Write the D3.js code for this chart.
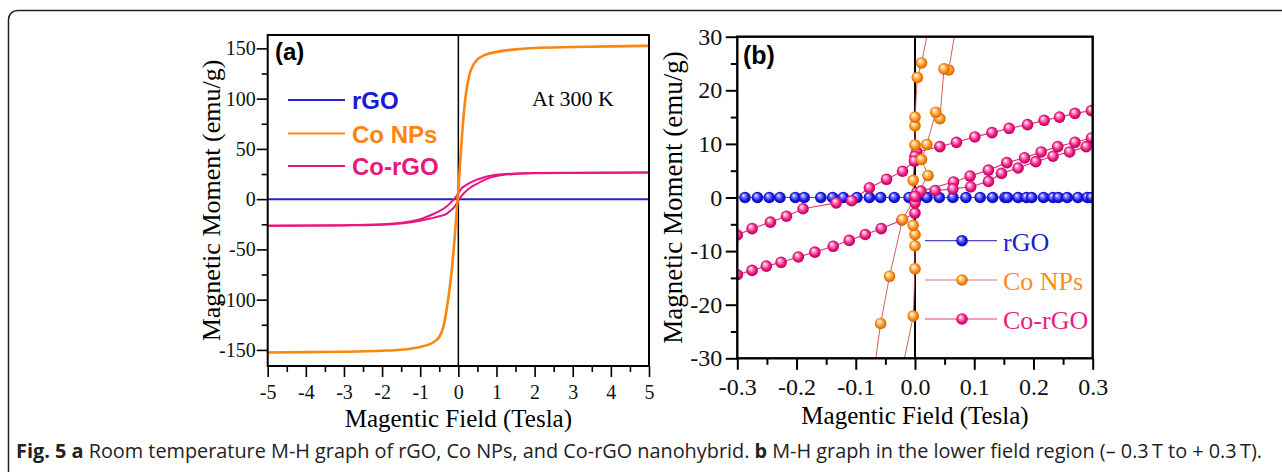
<!DOCTYPE html>
<html>
<head>
<meta charset="utf-8">
<script src="https://cdn.jsdelivr.net/npm/d3@7"></script>
<style>
body { margin: 0; background: #fff; }
svg { display: block; }
</style>
</head>
<body>
<svg id="fig" width="1282" height="472"></svg>
<script>
// ---- panel (a): full field sweep ----
var fieldA  = [-5, -4, -3, -2, -1.5, -1, -0.8, -0.6, -0.5, -0.4, -0.3, -0.2, -0.15, -0.1, -0.05, 0, 0.05, 0.1, 0.15, 0.2, 0.3, 0.4, 0.5, 0.7, 1, 1.5, 2, 3, 4, 5];
var coNPsA  = [-152.5, -152.2, -151.8, -150.8, -149.8, -147, -145, -141, -137, -128, -108, -80, -62, -40, -15, 8, 38, 65, 88, 105, 125, 134, 139, 143.5, 146.5, 149, 150.3, 151.3, 152, 152.5];
var rgoA    = [0, 0, 0, 0, 0, 0, 0, 0, 0, 0, 0, 0, 0, 0, 0, 0, 0, 0, 0, 0, 0, 0, 0, 0, 0, 0, 0, 0, 0, 0];

var fieldLoopA   = [-5, -3, -2, -1.5, -1, -0.7, -0.5, -0.3, -0.2, -0.1, 0, 0.1, 0.2, 0.3, 0.5, 0.7, 1, 1.5, 2, 3, 5];
var coRgoUpperA  = [-26.5, -26, -25, -23.5, -20, -15.5, -12, -7, -3.5, 0.5, 6, 11.3, 13.9, 16.2, 19.5, 22, 24.2, 25.5, 26, 26.2, 26.4];
var coRgoLowerA  = [-26.5, -26.1, -25.4, -24.2, -21.5, -19, -17, -14.4, -11.2, -7.8, -1.5, 4, 7.9, 11.1, 15.5, 19.5, 23, 25.1, 25.8, 26.1, 26.4];

var xTicksA = [-5, -4, -3, -2, -1, 0, 1, 2, 3, 4, 5];
var yTicksA = [-150, -100, -50, 0, 50, 100, 150];

// ---- panel (b): low field region ----
var rgoFieldB  = [-0.31, -0.287, -0.266, -0.246, -0.228, -0.202, -0.187, -0.159, -0.139, -0.121, -0.098, -0.077, -0.058, -0.035, -0.01, 0.003, 0.02, 0.041, 0.064, 0.086, 0.11, 0.131, 0.152, 0.156, 0.174, 0.188, 0.197, 0.217, 0.233, 0.242, 0.257, 0.275, 0.291, 0.298];
var rgoMomentB = [0, 0, 0, 0, 0, 0, 0, 0, 0, 0, 0, 0, 0, 0, 0, 0, 0, 0, 0, 0, 0, 0, 0, 0, 0, 0, 0, 0, 0, 0, 0, 0, 0, 0];

var coNPsFieldDownB  = [0.089, 0.057, 0.049, 0.042, 0.035, 0.02, 0.011, 0.022, -0.021, -0.043, -0.058, -0.085];
var coNPsMomentDownB = [45, 23.8, 24.0, 14.7, 15.9, 9.9, 7.1, 4.1, -4.1, -14.7, -23.5, -45];
var coNPsFieldUpB    = [-0.046, -0.003, 0, 0, 0, -0.003, -0.003, 0, 0, 0, 0.004, 0.011, 0.047];
var coNPsMomentUpB   = [-45, -22.1, -13.3, -9.0, -6.9, -5.2, 3.2, 9.8, 13.4, 15.0, 22.4, 25.1, 45];

var coRgoFieldUpperB  = [0.32, 0.298, 0.27, 0.244, 0.218, 0.19, 0.159, 0.13, 0.101, 0.07, 0.042, 0.003, 0, -0.001, -0.021, -0.048, -0.077, -0.107, -0.133, -0.189, -0.217, -0.244, -0.275, -0.3, -0.32];
var coRgoMomentUpperB = [16.6, 16.2, 15.7, 15.0, 14.4, 13.6, 12.9, 12.1, 11.3, 10.3, 9.5, 8.5, 7.7, 6.8, 4.9, 3.4, 1.8, -0.6, -1.0, -2.1, -3.5, -4.6, -5.8, -7.0, -8.0];
var coRgoFieldLowerB  = [-0.32, -0.3, -0.275, -0.251, -0.226, -0.197, -0.169, -0.138, -0.111, -0.084, -0.057, -0.022, 0, 0, 0.003, 0.01, 0.065, 0.093, 0.124, 0.155, 0.185, 0.213, 0.241, 0.27, 0.298, 0.32];
var coRgoMomentLowerB = [-15.0, -14.4, -13.6, -12.8, -12.1, -11.1, -10.2, -9.1, -8.0, -6.9, -5.8, -4.2, -2.9, -1.0, 0.9, 1.2, 2.9, 4.0, 5.1, 6.5, 7.4, 8.5, 9.5, 10.3, 11.1, 11.7];
var coRgoFieldVirginB  = [0, 0.034, 0.064, 0.094, 0.124, 0.146, 0.174, 0.204, 0.233, 0.261, 0.289, 0.32];
var coRgoMomentVirginB = [0.2, 1.3, 1.6, 2.0, 3.0, 4.5, 5.5, 6.7, 7.7, 8.5, 9.5, 10.4];

var xTicksB = [-0.3, -0.2, -0.1, 0, 0.1, 0.2, 0.3];
var yTicksB = [-30, -20, -10, 0, 10, 20, 30];

var blue = '#1a1ad6', orange = '#ff8410', pink = '#e8167f';
var serif = '"Liberation Serif", "Times New Roman", serif';
var sans = '"Liberation Sans", Arial, sans-serif';

var svg = d3.select('#fig');

function zip(xs, ys) {
    return xs.map(function (x, i) { return [x, ys[i]]; });
}
function fmt(d) {
    return String(d).replace('\u2212', '-');
}

// outer frame, right and bottom go past the picture
svg.append('rect').attr('x', 8.5).attr('y', 10.5).attr('width', 1400).attr('height', 600)
    .attr('rx', 9).attr('fill', 'none').attr('stroke', '#222').attr('stroke-width', 1.5);

// marker gradients
var defs = svg.append('defs');
[['gBlue', '#8a8aff', '#1515e8', '#0a0a90'], ['gOrange', '#ffd9a0', '#ff8a10', '#c05a00'], ['gPink', '#ffa0cc', '#f0157f', '#a00050']].forEach(function (g) {
    var rg = defs.append('radialGradient').attr('id', g[0])
        .attr('cx', '50%').attr('cy', '50%').attr('r', '55%').attr('fx', '35%').attr('fy', '30%');
    rg.append('stop').attr('offset', '0%').attr('stop-color', '#fff');
    rg.append('stop').attr('offset', '25%').attr('stop-color', g[1]);
    rg.append('stop').attr('offset', '65%').attr('stop-color', g[2]);
    rg.append('stop').attr('offset', '100%').attr('stop-color', g[3]);
});

// ================= panel (a) =================
var ax = d3.scaleLinear().domain([-5, 5]).range([267.7, 649]);
var ay = d3.scaleLinear().domain([-166, 163.3]).range([366, 35]);

defs.append('clipPath').attr('id', 'clipA').append('rect')
    .attr('x', 267.7).attr('y', 35).attr('width', 649 - 267.7).attr('height', 366 - 35);

var gA = svg.append('g');
var plotA = gA.append('g').attr('clip-path', 'url(#clipA)');

plotA.append('line').attr('x1', ax(0)).attr('x2', ax(0)).attr('y1', 35).attr('y2', 366)
    .attr('stroke', '#000').attr('stroke-width', 1.5);

var lineA = d3.line().x(function (d) { return ax(d[0]); }).y(function (d) { return ay(d[1]); })
    .curve(d3.curveMonotoneX);

plotA.append('path').attr('d', lineA(zip(fieldA, rgoA))).attr('fill', 'none')
    .attr('stroke', '#2323c8').attr('stroke-width', 2);
plotA.append('path').attr('d', lineA(zip(fieldLoopA, coRgoUpperA))).attr('fill', 'none')
    .attr('stroke', pink).attr('stroke-width', 2);
plotA.append('path').attr('d', lineA(zip(fieldLoopA, coRgoLowerA))).attr('fill', 'none')
    .attr('stroke', pink).attr('stroke-width', 2);
plotA.append('path').attr('d', lineA(zip(fieldA, coNPsA))).attr('fill', 'none')
    .attr('stroke', orange).attr('stroke-width', 2.6);

// axes (a)
var minorXA = d3.range(-5, 5.01, 0.5).filter(function (v) { return Math.abs(v % 1) > 0.01; });
var minorYA = [-125, -75, -25, 25, 75, 125];

gA.append('g').attr('transform', 'translate(0,366)')
    .call(d3.axisBottom(ax).tickValues(minorXA).tickSize(6).tickFormat(''));
gA.append('g').attr('transform', 'translate(267.7,0)')
    .call(d3.axisLeft(ay).tickValues(minorYA).tickSize(6).tickFormat(''));
gA.append('g').attr('transform', 'translate(0,366)')
    .call(d3.axisBottom(ax).tickValues(xTicksA).tickSize(11).tickPadding(8).tickFormat(fmt));
gA.append('g').attr('transform', 'translate(267.7,0)')
    .call(d3.axisLeft(ay).tickValues(yTicksA).tickSize(11).tickPadding(1).tickFormat(fmt));

gA.selectAll('.domain').remove();
gA.selectAll('.tick line').attr('stroke', '#000').attr('stroke-width', 1.6);
gA.selectAll('.tick text').attr('font-family', serif).attr('font-size', 20).attr('fill', '#111');

gA.append('rect').attr('x', 267.7).attr('y', 35).attr('width', 649 - 267.7).attr('height', 366 - 35)
    .attr('fill', 'none').attr('stroke', '#000').attr('stroke-width', 2);

gA.append('text').attr('x', 275).attr('y', 60).attr('font-family', sans).attr('font-weight', 'bold')
    .attr('font-size', 24).text('(a)');
gA.append('text').attr('x', 532).attr('y', 106).attr('font-family', serif)
    .attr('font-size', 22).text('At 300 K');

var legendA = [
    { name: 'rGO', color: blue, lc: '#2323c8', y: 100 },
    { name: 'Co NPs', color: orange, lc: orange, y: 133.5 },
    { name: 'Co-rGO', color: pink, lc: pink, y: 166 }
];
legendA.forEach(function (d) {
    gA.append('line').attr('x1', 288).attr('x2', 345).attr('y1', d.y).attr('y2', d.y)
        .attr('stroke', d.lc).attr('stroke-width', 2);
    gA.append('text').attr('x', 352).attr('y', d.y + 9).attr('font-family', sans)
        .attr('font-weight', 'bold').attr('font-size', 24).attr('fill', d.color).text(d.name);
});

gA.append('text').attr('transform', 'translate(220,' + (35 + 366) / 2 + ') rotate(-90)')
    .attr('text-anchor', 'middle').attr('font-family', serif).attr('font-size', 26)
    .text('Magnetic Moment (emu/g)');
gA.append('text').attr('x', (267.7 + 649) / 2).attr('y', 427).attr('text-anchor', 'middle')
    .attr('font-family', serif).attr('font-size', 25).text('Magentic Field (Tesla)');

// ================= panel (b) =================
var bx = d3.scaleLinear().domain([-0.3, 0.3]).range([737.3, 1092.7]);
var by = d3.scaleLinear().domain([-30, 30]).range([358.3, 36.7]);

defs.append('clipPath').attr('id', 'clipB').append('rect')
    .attr('x', 737.3).attr('y', 36.7).attr('width', 1092.7 - 737.3).attr('height', 358.3 - 36.7);

var gB = svg.append('g');
var plotB = gB.append('g').attr('clip-path', 'url(#clipB)');

plotB.append('line').attr('x1', bx(0)).attr('x2', bx(0)).attr('y1', 36.7).attr('y2', 358.3)
    .attr('stroke', '#000').attr('stroke-width', 2);

var lineB = d3.line().x(function (d) { return bx(d[0]); }).y(function (d) { return by(d[1]); });

var seriesB = [
    { pts: zip(rgoFieldB, rgoMomentB), line: '#4a4ac0', grad: 'url(#gBlue)', lw: 1.2 },
    { pts: zip(coRgoFieldUpperB, coRgoMomentUpperB), line: '#d8407f', grad: 'url(#gPink)', lw: 1.2 },
    { pts: zip(coRgoFieldLowerB, coRgoMomentLowerB), line: '#d8407f', grad: 'url(#gPink)', lw: 1.2 },
    { pts: zip(coRgoFieldVirginB, coRgoMomentVirginB), line: '#d8407f', grad: 'url(#gPink)', lw: 1.2 },
    { pts: zip(coNPsFieldDownB, coNPsMomentDownB), line: '#c85050', grad: 'url(#gOrange)', lw: 0.9 },
    { pts: zip(coNPsFieldUpB, coNPsMomentUpB), line: '#c85050', grad: 'url(#gOrange)', lw: 0.9 }
];
seriesB.forEach(function (s) {
    plotB.append('path').attr('d', lineB(s.pts)).attr('fill', 'none')
        .attr('stroke', s.line).attr('stroke-width', s.lw);
});
seriesB.forEach(function (s) {
    plotB.selectAll(null).data(s.pts).enter().append('circle')
        .attr('cx', function (d) { return bx(d[0]); })
        .attr('cy', function (d) { return by(d[1]); })
        .attr('r', 5.8).attr('fill', s.grad);
});

var minorXB = [-0.25, -0.15, -0.05, 0.05, 0.15, 0.25];
var minorYB = [-25, -15, -5, 5, 15, 25];

gB.append('g').attr('transform', 'translate(0,358.3)')
    .call(d3.axisBottom(bx).tickValues(minorXB).tickSize(6.5).tickFormat(''));
gB.append('g').attr('transform', 'translate(737.3,0)')
    .call(d3.axisLeft(by).tickValues(minorYB).tickSize(6.5).tickFormat(''));
gB.append('g').attr('transform', 'translate(0,358.3)')
    .call(d3.axisBottom(bx).tickValues(xTicksB).tickSize(11.5).tickPadding(8)
        .tickFormat(function (d) { return fmt(d3.format('.1f')(d)); }));
gB.append('g').attr('transform', 'translate(737.3,0)')
    .call(d3.axisLeft(by).tickValues(yTicksB).tickSize(11.5).tickPadding(3.5).tickFormat(fmt));

gB.selectAll('.domain').remove();
gB.selectAll('.tick line').attr('stroke', '#000').attr('stroke-width', 2);
gB.selectAll('.tick text').attr('font-family', serif).attr('font-size', 24).attr('fill', '#111');

gB.append('rect').attr('x', 737.3).attr('y', 36.7).attr('width', 1092.7 - 737.3).attr('height', 358.3 - 36.7)
    .attr('fill', 'none').attr('stroke', '#000').attr('stroke-width', 2.4);

gB.append('text').attr('x', 743).attr('y', 64).attr('font-family', sans).attr('font-weight', 'bold')
    .attr('font-size', 25).text('(b)');

var legendB = [
    { name: 'rGO', color: '#1d1dd0', line: '#4a4ac0', grad: 'url(#gBlue)', y: 240.7 },
    { name: 'Co NPs', color: '#ff8c1a', line: '#d87070', grad: 'url(#gOrange)', y: 280 },
    { name: 'Co-rGO', color: '#e61e7d', line: '#d8407f', grad: 'url(#gPink)', y: 319 }
];
legendB.forEach(function (d) {
    gB.append('line').attr('x1', 925).attr('x2', 997).attr('y1', d.y).attr('y2', d.y)
        .attr('stroke', d.line).attr('stroke-width', 1.2);
    gB.append('circle').attr('cx', 962).attr('cy', d.y).attr('r', 5.8).attr('fill', d.grad);
    gB.append('text').attr('x', 1003).attr('y', d.y + 10).attr('font-family', serif)
        .attr('font-size', 26).attr('fill', d.color).text(d.name);
});

gB.append('text').attr('transform', 'translate(682,' + (36.7 + 358.3) / 2 + ') rotate(-90)')
    .attr('text-anchor', 'middle').attr('font-family', serif).attr('font-size', 27)
    .text('Magnetic Moment (emu/g)');
gB.append('text').attr('x', (737.3 + 1092.7) / 2).attr('y', 424).attr('text-anchor', 'middle')
    .attr('font-family', serif).attr('font-size', 25).text('Magentic Field (Tesla)');

// ---- caption ----
var cap = svg.append('text').attr('x', 16).attr('y', 458)
    .attr('font-family', '"Open Sans", "Noto Sans", sans-serif').attr('font-size', 19.5).attr('fill', '#222')
    .attr('textLength', 1246).attr('lengthAdjust', 'spacingAndGlyphs');
cap.append('tspan').attr('font-weight', 'bold').text('Fig. 5');
cap.append('tspan').attr('font-weight', 'bold').text(' a');
cap.append('tspan').text(' Room temperature M-H graph of rGO, Co NPs, and Co-rGO nanohybrid. ');
cap.append('tspan').attr('font-weight', 'bold').text('b');
cap.append('tspan').text(' M-H graph in the lower field region (\u2013 0.3\u2009T to + 0.3\u2009T).');
</script>
</body>
</html>
